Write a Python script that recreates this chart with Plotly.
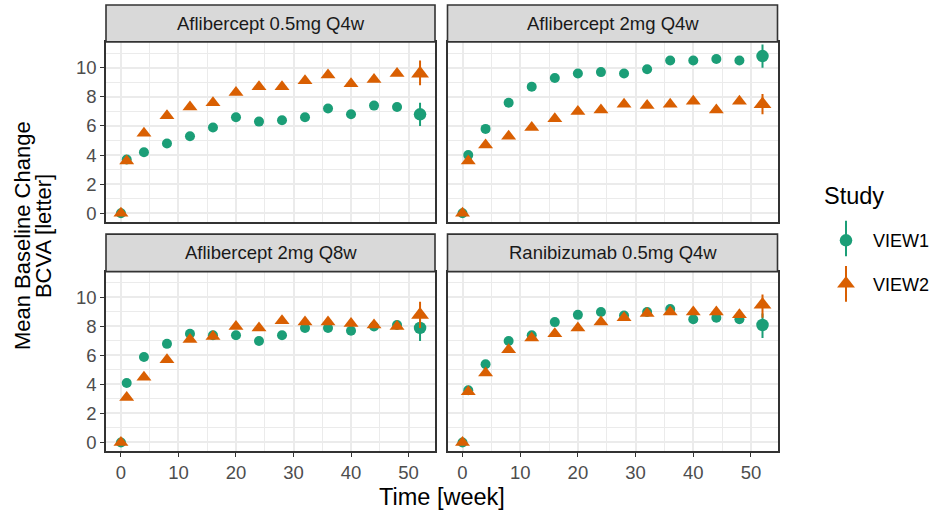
import plotly.graph_objects as go

# ---------------- data ----------------
weeks = [0, 1, 4, 8, 12, 16, 20, 24, 28, 32, 36, 40, 44, 48, 52]
panels = ["Aflibercept 0.5mg Q4w", "Aflibercept 2mg Q4w",
          "Aflibercept 2mg Q8w", "Ranibizumab 0.5mg Q4w"]
studies = ["VIEW1", "VIEW2"]

view1_afl05_q4w = [0, 3.7, 4.2, 4.8, 5.3, 5.9, 6.6, 6.3, 6.4, 6.6, 7.2, 6.8, 7.4, 7.3, 6.8]
view2_afl05_q4w = [0, 3.6, 5.5, 6.7, 7.3, 7.6, 8.3, 8.7, 8.7, 9.1, 9.5, 8.9, 9.2, 9.6, 9.6]
view1_afl2_q4w = [0, 4.0, 5.8, 7.6, 8.7, 9.3, 9.6, 9.7, 9.6, 9.9, 10.5, 10.5, 10.6, 10.5, 10.8]
view2_afl2_q4w = [0, 3.6, 4.7, 5.3, 5.9, 6.5, 7.0, 7.1, 7.5, 7.4, 7.5, 7.7, 7.1, 7.7, 7.5]
view1_afl2_q8w = [0, 4.1, 5.9, 6.8, 7.5, 7.4, 7.4, 7.0, 7.4, 7.9, 7.9, 7.7, 8.0, 8.1, 7.9]
view2_afl2_q8w = [0, 3.1, 4.5, 5.7, 7.1, 7.3, 8.0, 7.9, 8.4, 8.3, 8.3, 8.2, 8.1, 8.0, 8.8]
view1_rbz05_q4w = [0, 3.6, 5.4, 7.0, 7.4, 8.3, 8.8, 9.0, 8.75, 9.0, 9.2, 8.5, 8.6, 8.5, 8.1]
view2_rbz05_q4w = [0, 3.5, 4.8, 6.4, 7.2, 7.5, 7.9, 8.3, 8.6, 8.9, 9.0, 9.0, 9.0, 8.8, 9.5]

# 95% CI at week 52, per panel (same order as panels)
view1_ci_low = [6.0, 10.0, 7.0, 7.2]
view1_ci_high = [7.6, 11.6, 8.6, 8.9]
view2_ci_low = [8.8, 6.8, 7.9, 8.6]
view2_ci_high = [10.5, 8.2, 9.7, 10.2]

x_ticks = [0, 10, 20, 30, 40, 50]
y_ticks = [0, 2, 4, 6, 8, 10]

# ---------------- style ----------------
W, H = 935, 517
FONT = "Liberation Sans, Arial, sans-serif"
colors = {"VIEW1": "#1B9E77", "VIEW2": "#D95F02"}
symbols = {"VIEW1": "circle", "VIEW2": "triangle-up"}
size_pt = {"VIEW1": 10, "VIEW2": 13}
size_end = {"VIEW1": 12.5, "VIEW2": 15.5}

series = {
    "VIEW1": [view1_afl05_q4w, view1_afl2_q4w, view1_afl2_q8w, view1_rbz05_q4w],
    "VIEW2": [view2_afl05_q4w, view2_afl2_q4w, view2_afl2_q8w, view2_rbz05_q4w],
}
ci_low = {"VIEW1": view1_ci_low, "VIEW2": view2_ci_low}
ci_high = {"VIEW1": view1_ci_high, "VIEW2": view2_ci_high}

# pixel geometry
col_px = [(106, 435), (447.5, 777.5)]
row_panel_px = [(42, 222.5), (272.7, 452.5)]
row_strip_px = [(5, 42), (235, 272.7)]


def px_x(v):
    return v / W


def px_y(v):
    return 1 - v / H


fig = go.Figure()

for i, name in enumerate(panels):
    ax = "" if i == 0 else str(i + 1)
    for s in studies:
        vals = series[s][i]
        fig.add_trace(go.Scatter(
            x=weeks[:-1], y=vals[:-1], mode="markers",
            xaxis="x" + ax, yaxis="y" + ax,
            marker=dict(color=colors[s], symbol=symbols[s], size=size_pt[s]),
            showlegend=False, legendgroup=s, name=s,
        ))
        fig.add_trace(go.Scatter(
            x=weeks[-1:], y=vals[-1:], mode="markers",
            xaxis="x" + ax, yaxis="y" + ax,
            marker=dict(color=colors[s], symbol=symbols[s], size=size_end[s]),
            error_y=dict(type="data", symmetric=False,
                         array=[ci_high[s][i] - vals[-1]],
                         arrayminus=[vals[-1] - ci_low[s][i]],
                         color=colors[s], thickness=2, width=0),
            showlegend=(i == 0), legendgroup=s, name=s,
        ))

layout = dict(
    width=W, height=H,
    margin=dict(l=0, r=0, t=0, b=0),
    paper_bgcolor="white", plot_bgcolor="white",
    font=dict(family=FONT, size=18.5, color="#1A1A1A"),
    showlegend=True,
    legend=dict(
        x=px_x(819), y=px_y(223), xanchor="left", yanchor="top",
        bgcolor="rgba(0,0,0,0)",
        font=dict(size=18, color="black", family=FONT),
        itemwidth=44, tracegroupgap=17,
    ),
    shapes=[], annotations=[],
)

for i, name in enumerate(panels):
    r, c = divmod(i, 2)
    key = "" if i == 0 else str(i + 1)
    x0, x1 = col_px[c]
    y0, y1 = row_panel_px[r]
    common = dict(showline=True, mirror=True, linecolor="#333333", linewidth=1.6,
                  showgrid=True, gridcolor="#EBEBEB", gridwidth=1.8, zeroline=False,
                  ticks="outside", ticklen=4, tickwidth=1.4, tickcolor="#333333",
                  tickfont=dict(size=18.5, color="#4D4D4D", family=FONT))
    xa = dict(common, domain=[px_x(x0), px_x(x1)], range=[-2.6, 54.6],
              tickvals=x_ticks, anchor="y" + key,
              minor=dict(dtick=5, tick0=0, showgrid=True, gridcolor="#EBEBEB", gridwidth=0.9))
    ya = dict(common, domain=[px_y(y1), px_y(y0)], range=[-0.57, 11.78],
              tickvals=y_ticks, anchor="x" + key,
              minor=dict(dtick=1, tick0=0, showgrid=True, gridcolor="#EBEBEB", gridwidth=0.9))
    if r == 0:
        xa["showticklabels"] = False
        xa["ticks"] = ""
    if c == 1:
        ya["showticklabels"] = False
        ya["ticks"] = ""
    layout["xaxis" + key] = xa
    layout["yaxis" + key] = ya

    sy0, sy1 = row_strip_px[r]
    layout["shapes"].append(dict(
        type="rect", xref="paper", yref="paper",
        x0=px_x(x0), x1=px_x(x1), y0=px_y(sy1), y1=px_y(sy0),
        fillcolor="#D9D9D9", line=dict(color="#333333", width=1.6), layer="above"))
    layout["annotations"].append(dict(
        text=name, xref="paper", yref="paper", showarrow=False,
        x=px_x((x0 + x1) / 2), y=px_y((sy0 + sy1) / 2),
        xanchor="center", yanchor="middle",
        font=dict(size=18.5, color="#1A1A1A", family=FONT)))

# axis titles
layout["annotations"].append(dict(
    text="Time [week]", xref="paper", yref="paper", showarrow=False,
    x=px_x((106 + 777.5) / 2), y=px_y(499), xanchor="center", yanchor="middle",
    font=dict(size=23.5, color="black", family=FONT)))
for txt, cx in [("Mean Baseline Change", 22), ("BCVA [letter]", 43)]:
    layout["annotations"].append(dict(
        text=txt, xref="paper", yref="paper",
        showarrow=False, textangle=-90,
        x=px_x(cx), y=px_y(237), xanchor="center", yanchor="middle",
        font=dict(size=22, color="black", family=FONT)))

# legend title
layout["annotations"].append(dict(
    text="Study", xref="paper", yref="paper", showarrow=False,
    x=px_x(822), y=px_y(197), xanchor="left", yanchor="middle",
    font=dict(size=23.5, color="black", family=FONT)))

# legend key vertical range lines
for s, (ly0, ly1) in zip(studies, [(221.7, 257.3), (267, 303)]):
    layout["shapes"].append(dict(
        type="line", xref="paper", yref="paper",
        x0=px_x(846), x1=px_x(846), y0=px_y(ly1), y1=px_y(ly0),
        line=dict(color=colors[s], width=2)))

fig.update_layout(**layout)
fig.write_html("out.html",
               config={"displayModeBar": False},
               post_script="document.body.style.margin='0';document.body.style.overflow='hidden';")
